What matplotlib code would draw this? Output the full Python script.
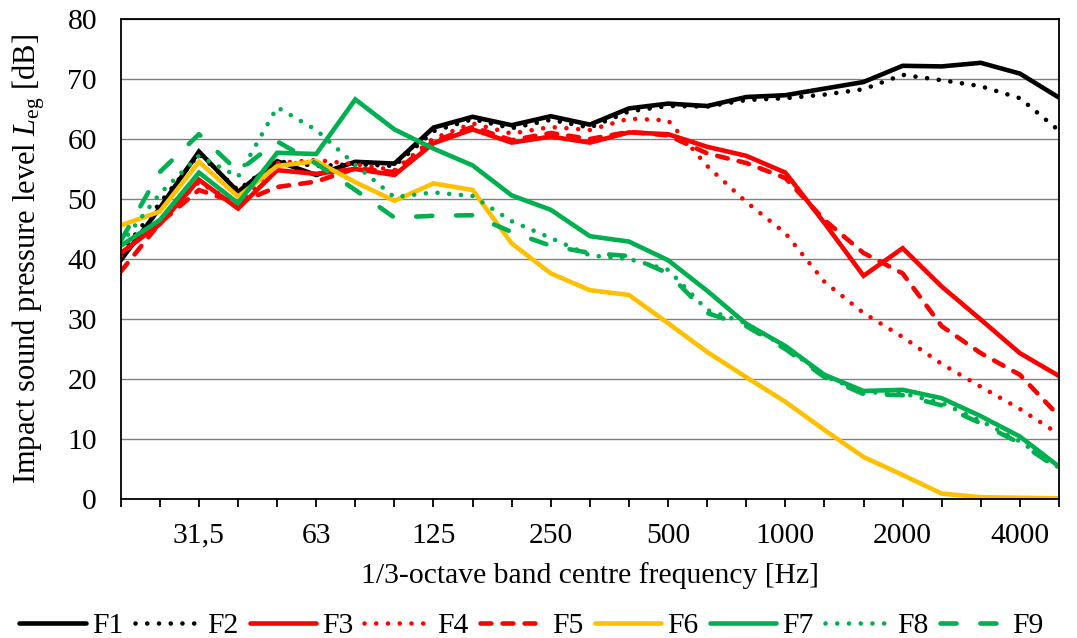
import matplotlib
matplotlib.use("Agg")
import matplotlib.pyplot as plt
import numpy as np

categories = ['20', '25', '31,5', '40', '50', '63', '80', '100', '125', '160', '200', '250',
              '315', '400', '500', '630', '800', '1000', '1250', '1600', '2000', '2500',
              '3150', '4000', '5000']

F1 = [39.8, 48.5, 57.9, 51.2, 56.3, 54.0, 56.2, 55.9, 61.9, 63.7, 62.3, 63.8, 62.4, 65.1,
      65.9, 65.5, 67.0, 67.3, 68.4, 69.5, 72.2, 72.1, 72.7, 70.9, 66.9]
F2 = [41.0, 49.3, 57.5, 51.5, 56.3, 55.5, 55.8, 55.5, 61.3, 63.3, 61.8, 63.2, 61.9, 64.6,
      65.5, 65.4, 66.5, 66.8, 67.4, 68.3, 70.7, 69.8, 68.8, 66.8, 61.4]
F3 = [41.0, 45.8, 53.2, 48.4, 54.8, 54.2, 55.0, 54.0, 59.3, 61.6, 59.4, 60.4, 59.4, 61.1,
      60.8, 58.7, 57.2, 54.4, 46.0, 37.2, 41.8, 35.4, 29.9, 24.3, 20.5]
F4 = [40.5, 46.5, 52.8, 49.0, 56.0, 56.5, 55.8, 54.8, 60.1, 62.6, 60.9, 62.0, 61.5, 63.4,
      63.1, 55.5, 49.5, 44.3, 36.2, 31.0, 27.0, 22.5, 18.7, 15.0, 10.8]
F5 = [37.9, 46.0, 51.5, 49.3, 52.0, 52.9, 55.1, 54.5, 59.6, 62.0, 59.8, 61.0, 60.0, 61.2,
      60.6, 57.6, 56.0, 53.5, 46.5, 41.0, 37.6, 28.8, 24.3, 20.7, 13.8]
F6 = [45.6, 47.9, 56.2, 50.4, 55.5, 56.3, 52.8, 49.7, 52.6, 51.5, 42.6, 37.6, 34.8, 34.0,
      29.3, 24.5, 20.3, 16.2, 11.5, 7.0, 4.0, 0.9, 0.3, 0.2, 0.1]
F7 = [42.2, 46.5, 54.4, 49.3, 57.7, 57.5, 66.6, 61.6, 58.4, 55.6, 50.6, 48.2, 43.8, 42.9,
      39.8, 34.7, 29.2, 25.5, 20.7, 18.0, 18.2, 16.8, 13.8, 10.4, 5.4]
F8 = [42.5, 50.9, 57.2, 53.7, 65.3, 61.5, 55.7, 50.3, 51.1, 50.5, 46.3, 43.5, 40.6, 40.0,
      38.2, 31.5, 29.3, 25.3, 20.5, 17.8, 17.6, 16.0, 13.0, 9.6, 5.2]
F9 = [43.0, 54.5, 60.8, 54.6, 59.6, 55.9, 51.5, 46.9, 47.2, 47.3, 44.5, 42.2, 41.0, 40.5,
      37.6, 31.0, 28.8, 25.0, 20.3, 17.5, 17.3, 15.6, 12.6, 9.3, 5.0]

series_names = ['F1', 'F2', 'F3', 'F4', 'F5', 'F6', 'F7', 'F8', 'F9']
series_values = [F1, F2, F3, F4, F5, F6, F7, F8, F9]
labeled_ticks = ['31,5', '63', '125', '250', '500', '1000', '2000', '4000']

plt.rcParams['font.family'] = ['Liberation Serif', 'DejaVu Serif']
plt.rcParams['mathtext.fontset'] = 'custom'
plt.rcParams['mathtext.rm'] = 'Liberation Serif'
plt.rcParams['mathtext.it'] = 'Liberation Serif:italic'

BLACK = '#000000'
RED = '#FF0000'
YELLOW = '#FFC000'
GREEN = '#00B050'

DOT = (0.01, 2.55)
DASH = (2.36, 2.45)
LONG = (3.5, 5.2)
styles = [
    (BLACK, None),
    (BLACK, DOT),
    (RED, None),
    (RED, DOT),
    (RED, DASH),
    (YELLOW, None),
    (GREEN, None),
    (GREEN, DOT),
    (GREEN, LONG),
]

FS = 21.3

fig = plt.figure(figsize=(10.77, 6.38), dpi=100)
ax = fig.add_axes([0.1121, 0.2179, 0.9833 - 0.1121, 0.9702 - 0.2179])

x = np.arange(len(categories))
lw = 3.3
for name, vals, (col, dash) in zip(series_names, series_values, styles):
    line, = ax.plot(x, vals, color=col, lw=lw, label=name,
                    solid_capstyle='round', solid_joinstyle='miter',
                    dash_capstyle='round')
    if dash is not None:
        line.set_dashes(dash)

ax.set_xlim(0, len(categories) - 1)
ax.set_ylim(0, 80)
ax.set_yticks(np.arange(0, 81, 10))
ax.yaxis.grid(True, color='#808080', lw=1.0)
ax.set_axisbelow(True)
ax.tick_params(axis='y', length=0, pad=17, labelsize=FS)
ax.set_xticks(x)
ax.set_xticklabels([c if c in labeled_ticks else '' for c in categories])
ax.tick_params(axis='x', direction='out', length=6, width=1.3, pad=11, labelsize=FS)
for sp in ax.spines.values():
    sp.set_color('black')
    sp.set_linewidth(1.3)

ax.set_xlabel('1/3-octave band centre frequency [Hz]', fontsize=FS, labelpad=10)
ax.set_ylabel(r'Impact sound pressure level $L_{\mathrm{eg}}$ [dB]', fontsize=22, labelpad=15)

leg = fig.legend(loc='lower center', bbox_to_anchor=(0.4935, -0.02), ncol=9, frameon=False,
                 fontsize=FS, handlelength=2.25, handletextpad=0.2, columnspacing=0.38,
                 borderaxespad=0)

fig.savefig('out.png', dpi=100)
